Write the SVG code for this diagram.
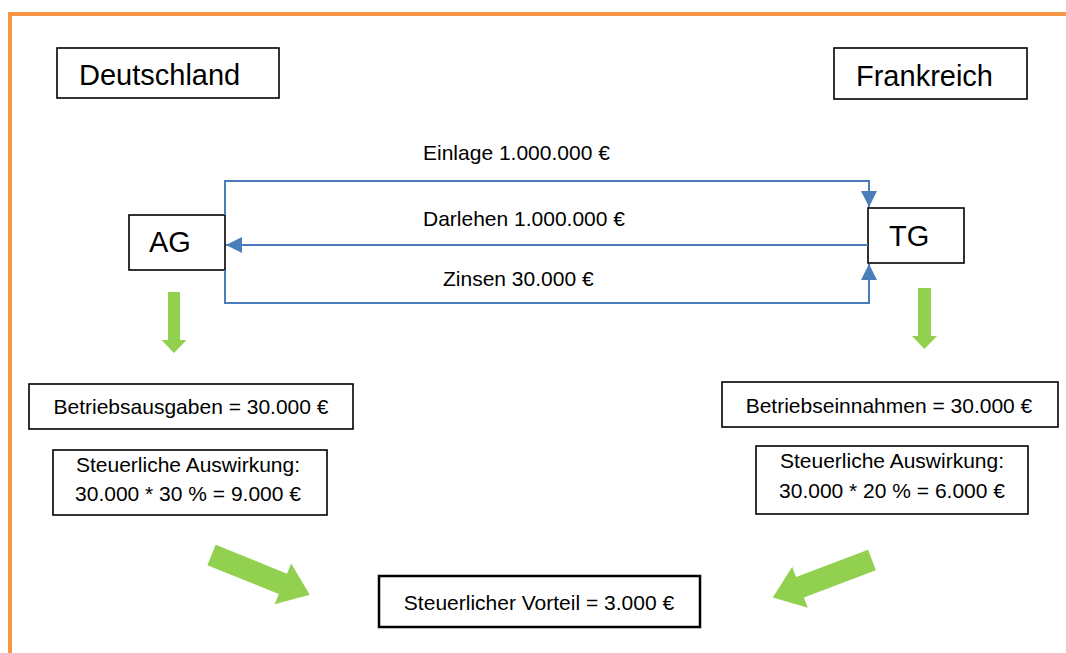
<svg xmlns="http://www.w3.org/2000/svg" width="1066" height="653" viewBox="0 0 1066 653">
<defs>
<style>
text{font-family:"Liberation Sans",Arial,sans-serif;fill:#000}
.big{font-size:29px}
.sm{font-size:21px}
.box{fill:#fff;stroke:#000;stroke-width:1.6}
.flow{fill:none;stroke:#4a7ebb;stroke-width:2}
.green{fill:#92d050}
</style>
<marker id="ahb" viewBox="0 0 16 16" refX="16" refY="8" markerWidth="16" markerHeight="16" markerUnits="userSpaceOnUse" orient="auto">
<path d="M0,0 L16,8 L0,16 Z" fill="#4a7ebb"/>
</marker>
<path id="diag" d="M0,-11 L77,-11 L77,-22 L106,0 L77,22 L77,11 L0,11 Z"/>
</defs>
<rect width="1066" height="653" fill="#fff"/>
<path d="M10,660 L10,14 L1070,14" fill="none" stroke="#f79646" stroke-width="4"/>

<g id="deutschland"><rect class="box" x="57" y="48" width="222" height="50"/><text class="big" x="79" y="85">Deutschland</text></g>
<g id="frankreich"><rect class="box" x="834" y="48" width="193" height="51"/><text class="big" x="856" y="86">Frankreich</text></g>
<g id="ag"><rect class="box" x="129" y="215" width="96" height="55"/><text class="big" x="149" y="252">AG</text></g>
<g id="tg"><rect class="box" x="868" y="208" width="96" height="55"/><text class="big" x="889" y="246">TG</text></g>

<g id="connectors">
<path class="flow" d="M225,215 L225,181 L869,181 L869,207" marker-end="url(#ahb)"/>
<path class="flow" d="M868,245 L226,245" marker-end="url(#ahb)"/>
<path class="flow" d="M225,270 L225,303 L869,303 L869,264" marker-end="url(#ahb)"/>
<text class="sm" x="423" y="160">Einlage 1.000.000 €</text>
<text class="sm" x="423" y="226">Darlehen 1.000.000 €</text>
<text class="sm" x="443" y="286">Zinsen 30.000 €</text>
<path class="green" d="M168,292 L180,292 L180,340 L186.5,340 L174,353 L161.5,340 L168,340 Z"/>
<path class="green" d="M918,288 L931,288 L931,336 L937,336 L924.5,349 L912,336 L918,336 Z"/>
<use href="#diag" class="green" transform="translate(211.5,555) rotate(22)"/>
<use href="#diag" class="green" transform="translate(872,560) rotate(159.3)"/>
</g>

<g id="betriebsausgaben"><rect class="box" x="29" y="384" width="324" height="45"/><text class="sm" x="191" y="414" text-anchor="middle">Betriebsausgaben = 30.000 €</text></g>
<g id="steuer-de"><rect class="box" x="53" y="450" width="274" height="65"/><text class="sm" x="188" y="472" text-anchor="middle">Steuerliche Auswirkung:</text><text class="sm" x="188" y="501" text-anchor="middle">30.000 * 30 % = 9.000 €</text></g>
<g id="betriebseinnahmen"><rect class="box" x="722" y="382" width="336" height="45"/><text class="sm" x="889" y="413" text-anchor="middle">Betriebseinnahmen = 30.000 €</text></g>
<g id="steuer-fr"><rect class="box" x="756" y="446" width="272" height="68"/><text class="sm" x="892" y="468" text-anchor="middle">Steuerliche Auswirkung:</text><text class="sm" x="892" y="498" text-anchor="middle">30.000 * 20 % = 6.000 €</text></g>
<g id="vorteil"><rect class="box" x="379" y="576" width="321" height="51" style="stroke-width:2.5"/><text class="sm" x="539" y="610" text-anchor="middle">Steuerlicher Vorteil = 3.000 €</text></g>
</svg>
